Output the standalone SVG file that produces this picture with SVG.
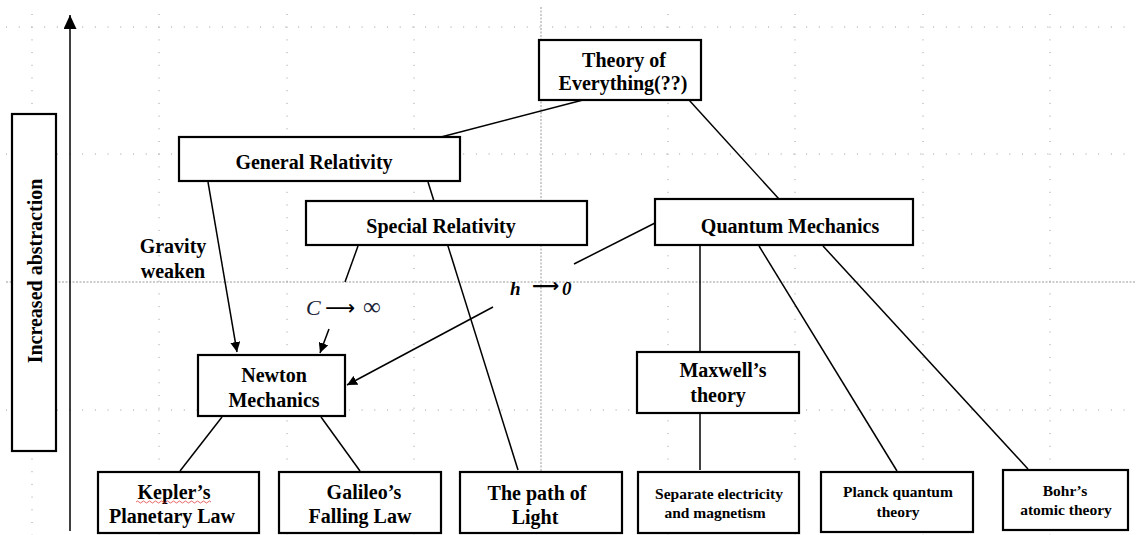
<svg xmlns="http://www.w3.org/2000/svg" width="1136" height="535" viewBox="0 0 1136 535">
<defs>
<style>
.grid{stroke:#9a9a9a;stroke-width:1;stroke-dasharray:1 11.7;fill:none}
.gridd{stroke:#9a9a9a;stroke-width:1;stroke-dasharray:2 1.5;fill:none}
.box{fill:#fff;stroke:#000;stroke-width:2.2}
.ln{stroke:#000;stroke-width:1.5;fill:none}
.t{font-family:"Liberation Serif","Times New Roman",serif;font-weight:bold;font-size:20px;fill:#000;text-anchor:middle}
.s{font-size:15.5px}
</style>
<marker id="ah" viewBox="0 0 10 10" refX="10" refY="5" markerWidth="10" markerHeight="10" markerUnits="userSpaceOnUse" orient="auto">
<path d="M0,0 L10,5 L0,10 Z" fill="#000"/>
</marker>
<marker id="axh" viewBox="0 0 14 13" refX="14" refY="6.5" markerWidth="14" markerHeight="13" markerUnits="userSpaceOnUse" orient="auto">
<path d="M0,0 L14,6.5 L0,13 Z" fill="#000"/>
</marker>
</defs>
<rect width="1136" height="535" fill="#fff"/>
<g id="grid">
<line class="grid" x1="6" y1="27" x2="1130" y2="27"/>
<line class="grid" x1="6" y1="154" x2="1130" y2="154"/>
<line class="grid" x1="6" y1="410" x2="1130" y2="410"/>
<line class="gridd" x1="6" y1="282" x2="1136" y2="282"/>
<line class="grid" x1="32" y1="14" x2="32" y2="535"/>
<line class="grid" x1="159" y1="14" x2="159" y2="535"/>
<line class="grid" x1="287" y1="14" x2="287" y2="535"/>
<line class="grid" x1="414" y1="14" x2="414" y2="535"/>
<line class="gridd" x1="541" y1="7" x2="541" y2="535"/>
<line class="grid" x1="668" y1="14" x2="668" y2="535"/>
<line class="grid" x1="795" y1="14" x2="795" y2="535"/>
<line class="grid" x1="923" y1="14" x2="923" y2="535"/>
<line class="grid" x1="1050" y1="14" x2="1050" y2="535"/>
</g>
<g id="axis">
<line class="ln" x1="70" y1="531" x2="70" y2="15" marker-end="url(#axh)"/>
</g>
<g id="axis-label">
<rect class="box" x="12" y="114" width="44" height="337"/>
<text class="t" transform="translate(42,271) rotate(-90)">Increased abstraction</text>
</g>
<g id="connectors">
<line class="ln" x1="583" y1="100" x2="441" y2="137"/>
<line class="ln" x1="689" y1="100" x2="779" y2="199"/>
<line class="ln" x1="208" y1="182" x2="237" y2="352" marker-end="url(#ah)"/>
<line class="ln" x1="428" y1="182" x2="518" y2="470"/>
<line class="ln" x1="358" y1="246" x2="345" y2="282"/>
<line class="ln" x1="329" y1="329" x2="320" y2="353" marker-end="url(#ah)"/>
<line class="ln" x1="655" y1="223" x2="574" y2="264"/>
<line class="ln" x1="493" y1="307" x2="347" y2="385" marker-end="url(#ah)"/>
<line class="ln" x1="700" y1="246" x2="700" y2="352"/>
<line class="ln" x1="700" y1="413" x2="700" y2="470"/>
<line class="ln" x1="759" y1="246" x2="897" y2="471"/>
<line class="ln" x1="823" y1="246" x2="1028" y2="469"/>
<line class="ln" x1="222" y1="417" x2="180" y2="471"/>
<line class="ln" x1="321" y1="417" x2="360" y2="471"/>
</g>
<g id="toe">
<rect class="box" x="539" y="40" width="162" height="60"/>
<text class="t" x="624" y="67">Theory of</text>
<text class="t" x="623" y="90">Everything(??)</text>
</g>
<g id="gr">
<rect class="box" x="179" y="137" width="281" height="44"/>
<text class="t" x="314" y="169">General Relativity</text>
</g>
<g id="sr">
<rect class="box" x="306" y="201" width="281" height="44"/>
<text class="t" x="441" y="233">Special Relativity</text>
</g>
<g id="qm">
<rect class="box" x="655" y="199" width="258" height="46"/>
<text class="t" x="790" y="233">Quantum Mechanics</text>
</g>
<g id="newton">
<rect class="box" x="198" y="355" width="147" height="61"/>
<text class="t" x="274" y="382">Newton</text>
<text class="t" x="274" y="407">Mechanics</text>
</g>
<g id="maxwell">
<rect class="box" x="637" y="352" width="162" height="61"/>
<text class="t" x="723" y="377">Maxwell’s</text>
<text class="t" x="718" y="402">theory</text>
</g>
<g id="kepler">
<rect class="box" x="98" y="472" width="161" height="61"/>
<text class="t" x="174" y="499">Kepler’s</text>
<text class="t" x="172" y="523">Planetary Law</text>
<path d="M136,502 q1.5,-2 3,0 t3,0 t3,0 t3,0 t3,0 t3,0 t3,0 t3,0 t3,0 t3,0 t3,0 t3,0 t3,0 t3,0 t3,0 t3,0 t3,0 t3,0 t3,0 t3,0 t3,0 t3,0 t3,0 t3,0 t3,0" fill="none" stroke="#e04040" stroke-width="0.8"/>
</g>
<g id="galileo">
<rect class="box" x="279" y="472" width="162" height="61"/>
<text class="t" x="364" y="499">Galileo’s</text>
<text class="t" x="360" y="523">Falling Law</text>
</g>
<g id="light">
<rect class="box" x="460" y="472" width="162" height="61"/>
<text class="t" x="537" y="500">The path of</text>
<text class="t" x="535" y="524">Light</text>
</g>
<g id="separate">
<rect class="box" x="638" y="472" width="161" height="61"/>
<text class="t s" x="719" y="499">Separate electricity</text>
<text class="t s" x="715" y="518">and magnetism</text>
</g>
<g id="planck">
<rect class="box" x="821" y="472" width="152" height="60"/>
<text class="t s" x="898" y="497">Planck quantum</text>
<text class="t s" x="898" y="517">theory</text>
</g>
<g id="bohr">
<rect class="box" x="1003" y="470" width="125" height="60"/>
<text class="t s" x="1065" y="496">Bohr’s</text>
<text class="t s" x="1066" y="515">atomic theory</text>
</g>
<g id="labels">
<text class="t" x="173" y="253">Gravity</text>
<text class="t" x="173" y="278">weaken</text>
<text font-family="Liberation Serif, serif" font-style="italic" font-size="22" fill="#1a2236" x="306" y="315">C</text>
<text font-family="DejaVu Sans, sans-serif" font-size="21" fill="#000" x="325" y="315">⟶</text>
<text font-family="Liberation Serif, serif" font-size="25" fill="#1a2236" x="363" y="315">∞</text>
<text font-family="Liberation Serif, serif" font-style="italic" font-weight="bold" font-size="19" fill="#000" x="510" y="295">h</text>
<text font-family="DejaVu Sans, sans-serif" font-size="19" font-weight="bold" fill="#000" x="532" y="292">⟶</text>
<text font-family="Liberation Serif, serif" font-style="italic" font-weight="bold" font-size="19" fill="#000" x="562" y="295">0</text>
</g>
</svg>
